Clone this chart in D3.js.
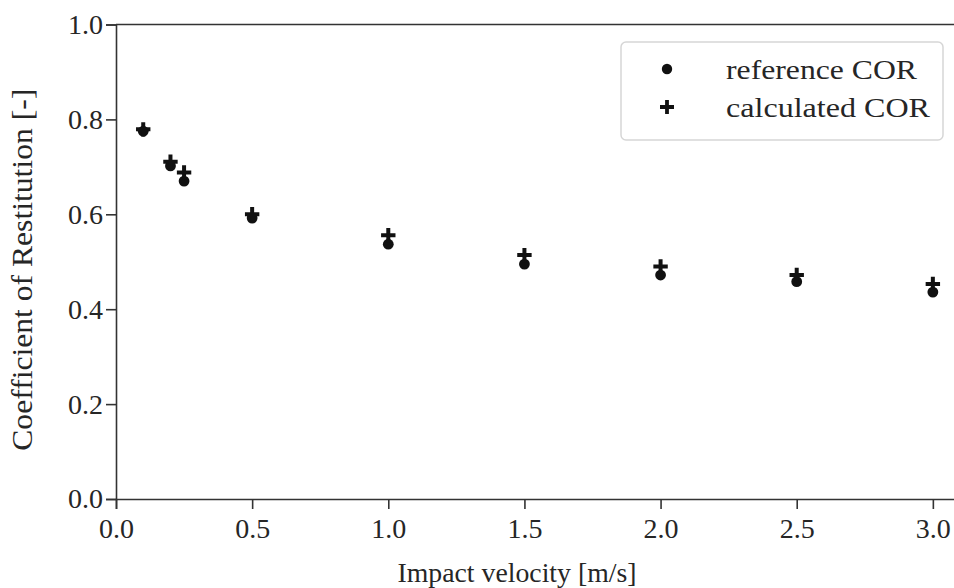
<!DOCTYPE html>
<html>
<head>
<meta charset="utf-8">
<script src="https://cdn.jsdelivr.net/npm/d3@7"></script>
<style>
  html, body { margin: 0; padding: 0; background: #fff; }
  svg { display: block; }
  text { font-family: "Liberation Serif", "DejaVu Serif", serif; fill: #262626; }
</style>
</head>
<body>
<svg id="chart" width="954" height="588"></svg>
<script>
// Impact velocity [m/s]
const velocities = [0.1, 0.2, 0.25, 0.5, 1.0, 1.5, 2.0, 2.5, 3.0];
// Coefficient of restitution, reference values
const referenceCOR = [0.775, 0.702, 0.670, 0.592, 0.537, 0.495, 0.472, 0.458, 0.436];
// Coefficient of restitution, calculated values
const calculatedCOR = [0.779, 0.711, 0.688, 0.600, 0.556, 0.514, 0.490, 0.472, 0.453];

const xTicks = [0.0, 0.5, 1.0, 1.5, 2.0, 2.5, 3.0];
const yTicks = [0.0, 0.2, 0.4, 0.6, 0.8, 1.0];
const seriesNames = ["reference COR", "calculated COR"];

const svg = d3.select("#chart");
const ink = "#111";
const fontStack = '"Liberation Serif", "DejaVu Serif", serif';

const x = d3.scaleLinear().domain([0, 3.085]).range([116, 956]);
const y = d3.scaleLinear().domain([0, 1.0]).range([499, 24.5]);

// axes
const xAxis = d3.axisBottom(x).tickValues(xTicks).tickFormat(d3.format(".1f")).tickSizeOuter(0).tickSize(10).tickPadding(9);
const yAxis = d3.axisLeft(y).tickValues(yTicks).tickFormat(d3.format(".1f")).tickSizeOuter(0).tickSize(10).tickPadding(3);

const gx = svg.append("g").attr("transform", `translate(0,${y(0)})`).call(xAxis);
const gy = svg.append("g").attr("transform", `translate(${x(0)},0)`).call(yAxis);
[gx, gy].forEach(g => {
  g.attr("font-size", null).attr("font-family", null);
  g.select(".domain").attr("stroke", "#333").attr("stroke-width", 1.6);
  g.selectAll(".tick line").attr("stroke", "#333").attr("stroke-width", 1.6);
  g.selectAll(".tick text")
    .style("font-size", "28px").style("font-family", fontStack).attr("fill", "#262626");
});
gx.selectAll(".tick text").attr("dy", "0.71em");

// top spine
svg.append("line")
  .attr("x1", x(0)).attr("x2", x.range()[1])
  .attr("y1", y(1)).attr("y2", y(1))
  .attr("stroke", "#333").attr("stroke-width", 1.6);

// axis titles
svg.append("text")
  .attr("x", 517).attr("y", 582)
  .attr("text-anchor", "middle").style("font-size", "28px")
  .attr("textLength", 239).attr("lengthAdjust", "spacingAndGlyphs")
  .text("Impact velocity [m/s]");

svg.append("text")
  .attr("transform", `translate(32,${y(0.5) + 8}) rotate(-90)`)
  .attr("text-anchor", "middle").style("font-size", "29px")
  .attr("textLength", 362).attr("lengthAdjust", "spacingAndGlyphs")
  .text("Coefficient of Restitution [-]");

// markers
const plusPath = (s, w) => `M${-s},${-w}H${-w}V${-s}H${w}V${-w}H${s}V${w}H${w}V${s}H${-w}V${w}H${-s}Z`;

const refData = velocities.map((v, i) => ({ v, c: referenceCOR[i] }));
const calcData = velocities.map((v, i) => ({ v, c: calculatedCOR[i] }));

svg.append("g").selectAll("circle").data(refData).join("circle")
  .attr("cx", d => x(d.v)).attr("cy", d => y(d.c))
  .attr("r", 5.4).attr("fill", ink);

svg.append("g").selectAll("path").data(calcData).join("path")
  .attr("transform", d => `translate(${x(d.v)},${y(d.c)})`)
  .attr("d", plusPath(7.2, 2)).attr("fill", ink);

// legend
const lg = svg.append("g");
lg.append("rect")
  .attr("x", 621).attr("y", 42).attr("width", 322).attr("height", 98)
  .attr("rx", 5).attr("fill", "#fff").attr("fill-opacity", 0.8)
  .attr("stroke", "#d6d6d6").attr("stroke-width", 1.5);
lg.append("circle").attr("cx", 667).attr("cy", 69).attr("r", 5.2).attr("fill", ink);
lg.append("path").attr("transform", "translate(667,107)").attr("d", plusPath(7, 1.9)).attr("fill", ink);
const legendWidths = [191, 204];
lg.selectAll("text.lbl").data(seriesNames).join("text")
  .attr("class", "lbl")
  .attr("x", 726).attr("y", (d, i) => 69 + i * 38)
  .attr("dy", "0.35em").style("font-size", "28px")
  .attr("textLength", (d, i) => legendWidths[i]).attr("lengthAdjust", "spacingAndGlyphs")
  .text(d => d);
</script>
</body>
</html>
